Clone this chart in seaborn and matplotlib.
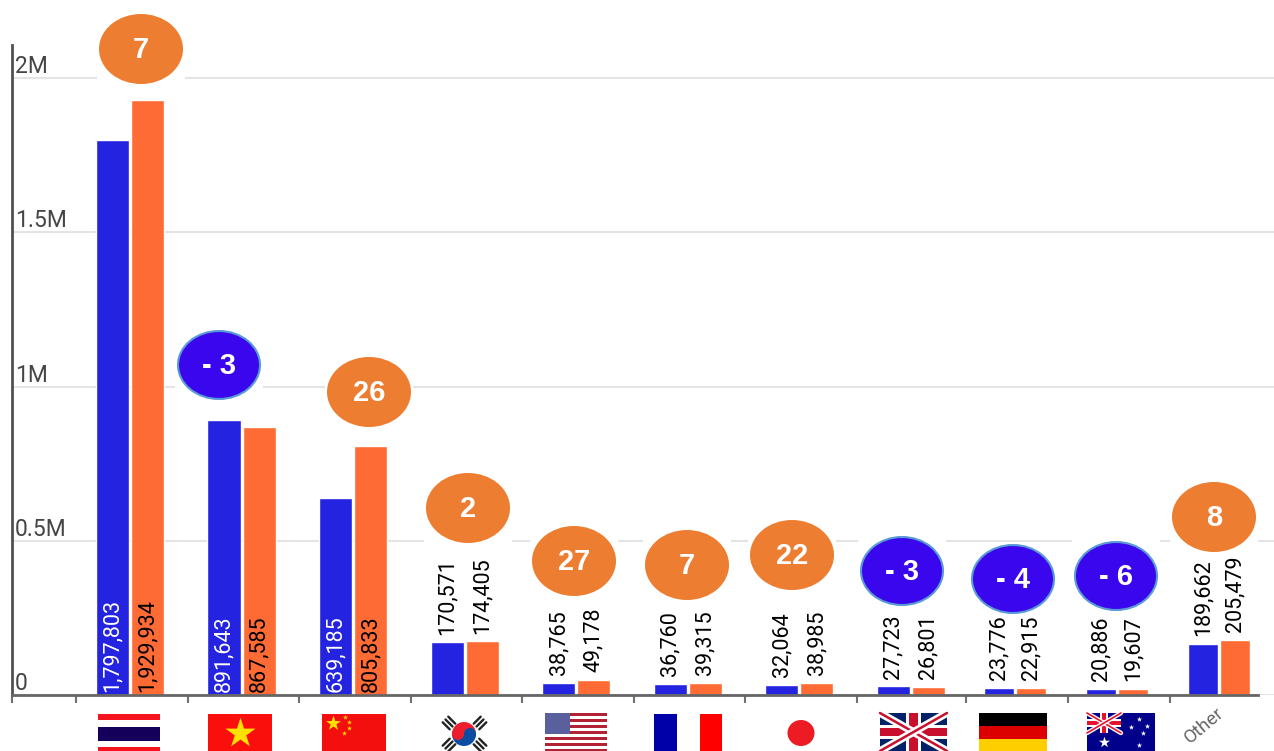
import numpy as np
import pandas as pd
import matplotlib
matplotlib.use('Agg')
import matplotlib.pyplot as plt
import seaborn as sns
from matplotlib.lines import Line2D
from matplotlib.patches import Circle, Ellipse, Rectangle, Wedge
from matplotlib.ticker import NullLocator

countries = ["Thailand", "Vietnam", "China", "Korea", "USA", "France", "Japan", "UK", "Germany", "Australia", "Other"]
year_a = [1797803, 891643, 639185, 170571, 38765, 36760, 32064, 27723, 23776, 20886, 189662]
year_b = [1929934, 867585, 805833, 174405, 49178, 39315, 38985, 26801, 22915, 19607, 205479]
# the "Other" bars are drawn shorter than their printed values in the original
height_a = year_a[:-1] + [165000]
height_b = year_b[:-1] + [178000]
change = [7, -3, 26, 2, 27, 7, 22, -3, -4, -6, 8]
y_ticks = [0, 500000, 1000000, 1500000, 2000000]
y_tick_labels = ["0", "0.5M", "1M", "1.5M", "2M"]

W, H = 1274, 751
BLUE = "#2323e0"
ORANGE = "#ff6b35"

sns.set_theme(style="white")
plt.rcParams['font.family'] = ['Roboto', 'DejaVu Sans']

df = pd.DataFrame({
    "country": countries * 2,
    "visitors": height_a + height_b,
    "year": ["a"] * len(countries) + ["b"] * len(countries),
})

fig = plt.figure(figsize=(W / 100, H / 100), dpi=100)
ax = fig.add_axes([12 / W, 1 - 695 / H, (W - 12) / W, 650 / H])
sns.barplot(data=df, x="country", y="visitors", hue="year", order=countries,
            palette=[BLUE, ORANGE], saturation=1, width=0.63, gap=0.06, legend=False, ax=ax)

# the last three groups sit closer together in the original
knots = [-1.058, 7.315, 7.685, 8.315, 8.685, 9.315, 9.685, 10.315, 10.65]
pixels = [12, 946, 983, 1047, 1085, 1149, 1187, 1251, 1274]
ax.set_xscale('function', functions=(
    lambda v: np.interp(v, knots, pixels, left=12, right=1274),
    lambda v: np.interp(v, pixels, knots, left=knots[0], right=knots[-1])))
ax.set_xlim(knots[0], knots[-1])
ax.set_ylim(0, 2000000 * 650 / 617)
ax.set_xlabel("")
ax.set_ylabel("")

ax.set_yticks(y_ticks)
ax.set_yticklabels(y_tick_labels, ha='left', va='bottom', color="#454545", fontsize=16.5)
ax.tick_params(axis='y', length=0, pad=-2)
ax.yaxis.grid(True, color="#e4e4e4", linewidth=1.5)
ax.set_axisbelow(True)

ax.set_xticks([knots[0]] + [i - 0.484 for i in range(len(countries))])
ax.set_xticklabels([])
ax.xaxis.set_minor_locator(NullLocator())
ax.tick_params(axis='x', bottom=True, length=6, width=1.5, color="#707070")

sns.despine(ax=ax, top=True, right=True)
ax.spines['left'].set_color("#505050")
ax.spines['left'].set_linewidth(2)
ax.spines['bottom'].set_color("#666666")
ax.spines['bottom'].set_linewidth(2)
ax.spines['bottom'].set_bounds(knots[0], 10.417)

# value labels: inside the bar for the three big groups, above it for the rest
label_font = dict(rotation=90, fontsize=15.5)
for container, values, inside_color in zip(ax.containers, (year_a, year_b), ("white", "black")):
    for i, (bar, val) in enumerate(zip(container.patches, values)):
        txt = f"{val:,}"
        cx = bar.get_x() + bar.get_width() / 2
        if i < 3:
            ax.annotate(txt, (cx, 0), xytext=(0, 2), textcoords='offset points', ha='center', va='bottom',
                        color=inside_color, **label_font)
        else:
            ax.annotate(txt, (cx, bar.get_height()), xytext=(0, 5.5), textcoords='offset points',
                        ha='center', va='bottom', color="black", **label_font)

# overlay in pixel coordinates for the bubbles and flags
ov = fig.add_axes([0, 0, 1, 1], zorder=5)
ov.set_xlim(0, W)
ov.set_ylim(H, 0)
ov.axis('off')
ov.patch.set_alpha(0)

bubble_x = [141, 219, 369, 468, 574, 687, 792, 902, 1013, 1116, 1214]
bubble_y = [49, 365, 392, 508, 561, 565, 555, 571, 579, 576, 517]
for cx, cy, val in zip(bubble_x, bubble_y, change):
    ov.add_patch(Rectangle((cx - 44, cy - 36), 88, 72, fc="white", ec="none", zorder=1))
    if val < 0:
        ov.add_patch(Ellipse((cx, cy), 82, 68, fc="#3a06ee", ec="#5b9bd5", lw=1.5, zorder=2))
        s = f"- {abs(val)}"
    else:
        ov.add_patch(Ellipse((cx, cy), 84, 70, fc="#ed7d31", ec="none", zorder=2))
        s = str(val)
    ov.text(cx, cy + 1, s, color="white", ha='center', va='center', fontsize=21, fontweight='bold',
            family=['Liberation Sans', 'DejaVu Sans'], zorder=3)


def rect(x0, y0, x1, y1, color):
    ov.add_patch(Rectangle((x0, y0), x1 - x0, y1 - y0, fc=color, ec="none"))


def star(x, y, size, color):
    ov.scatter([x], [y], marker='*', s=size, color=color, linewidths=0, zorder=3)


# Thailand
rect(98, 714, 160, 720, "#f5141e")
rect(98, 727, 160, 741, "#14005a")
rect(98, 747, 160, 751, "#f5141e")
# Vietnam
rect(208, 714, 272, 751, "#fa0f0c")
star(240, 733, 520, "#ffe000")
# China
rect(322, 714, 386, 751, "#f40f0f")
star(333, 723, 130, "#ffe000")
for sx, sy in [(345, 717), (349, 722), (349, 728), (344, 733)]:
    star(sx, sy, 14, "#ffe000")
# Korea
ov.add_patch(Wedge((464, 734), 12, 180, 360, fc="#ed1c2e", ec="none", zorder=2))
ov.add_patch(Wedge((464, 734), 12, 0, 180, fc="#0a4da2", ec="none", zorder=2))
ov.add_patch(Circle((458, 734), 6, fc="#ed1c2e", ec="none", zorder=2))
ov.add_patch(Circle((470, 734), 6, fc="#0a4da2", ec="none", zorder=2))
for tx, ty, sign in [(449, 723, 1), (480, 723, -1), (449, 745, -1), (480, 745, 1)]:
    for off in (-4, 0, 4):
        ox, oy = off * 0.7, off * 0.7 * -sign
        ov.add_line(Line2D([tx + ox - 5 * 0.7, tx + ox + 5 * 0.7],
                           [ty + oy - 5 * 0.7 * sign, ty + oy + 5 * 0.7 * sign],
                           color="#222222", lw=1.7))
# USA
rect(545, 713, 607, 751, "white")
for k in range(0, 13, 2):
    rect(545, 713 + k * 3, 607, 713 + (k + 1) * 3, "#b22234")
rect(545, 713, 570, 734, "#5a5f9e")
# France
rect(654, 714, 677, 751, "#0000a8")
rect(700, 714, 722, 751, "#ff0000")
# Japan
ov.add_patch(Ellipse((801, 733), 27, 26, fc="#ed1c24", ec="none"))
# UK
uk = Rectangle((880, 713), 67, 38, fc="#012169", ec="none")
ov.add_patch(uk)
for xs in ([880, 947], [947, 880]):
    ov.add_line(Line2D(xs, [713, 751], color="white", lw=5.5, clip_path=uk))
    ov.add_line(Line2D(xs, [713, 751], color="#c8102e", lw=1.8, clip_path=uk))
rect(906, 713, 921, 751, "white")
rect(880, 725, 947, 739, "white")
rect(909, 713, 918, 751, "#c8102e")
rect(880, 728, 947, 736, "#c8102e")
# Germany
rect(979, 713, 1047, 726, "#000000")
rect(979, 726, 1047, 739, "#dd0000")
rect(979, 739, 1047, 751, "#ffce00")
# Australia
rect(1087, 713, 1155, 751, "#00008b")
canton = Rectangle((1087, 713), 34, 20, fc="#00008b", ec="none")
ov.add_patch(canton)
for xs in ([1087, 1121], [1121, 1087]):
    ov.add_line(Line2D(xs, [713, 733], color="white", lw=3.2, clip_path=canton))
    ov.add_line(Line2D(xs, [713, 733], color="#e8112d", lw=1.2, clip_path=canton))
rect(1100, 713, 1108, 733, "white")
rect(1087, 719, 1121, 727, "white")
rect(1102, 713, 1106, 733, "#e8112d")
rect(1087, 721, 1121, 725, "#e8112d")
star(1104, 742, 70, "white")
for sx, sy in [(1139, 719), (1147, 726), (1131, 727), (1143, 733), (1139, 745)]:
    star(sx, sy, 16, "white")

ov.text(1204, 725, "Other", rotation=40, color="#666666", ha='center', va='center', fontsize=13.5,
        family=['Roboto', 'DejaVu Sans'])

fig.savefig("out.png", dpi=100)
plt.close(fig)
